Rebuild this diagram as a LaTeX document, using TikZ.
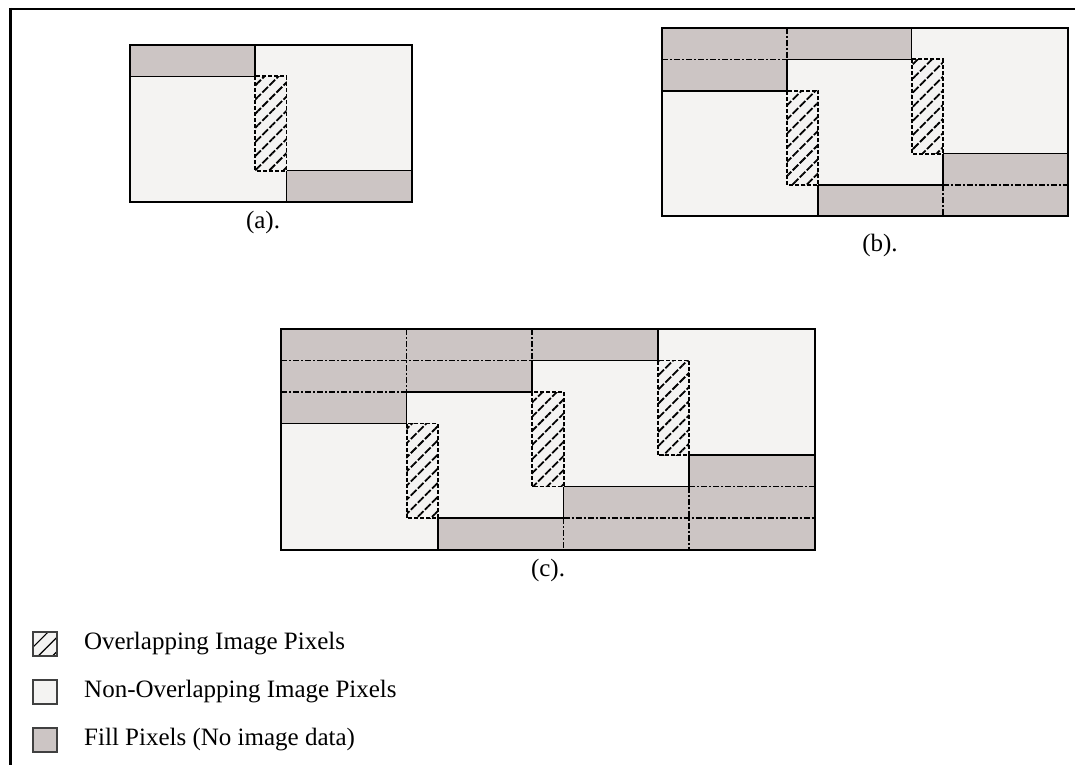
\documentclass[tikz,border=0pt]{standalone}
\usepackage{fontspec}
\setmainfont{Liberation Serif}
\usetikzlibrary{positioning,patterns.meta}
\definecolor{fillgrey}{HTML}{CCC5C4}
\definecolor{imggrey}{HTML}{F4F3F2}
\tikzset{
    imgpx/.style={fill=imggrey},
    fillpx/.style={fill=fillgrey, draw=black, line width=0.8pt},
    overlap/.style={preaction={fill=imggrey},
        pattern={Lines[angle=45, distance=5pt, line width=0.9pt]},
        draw=black, line width=0.9pt, dash pattern=on 2pt off 1pt},
    cut/.style={line width=0.8pt, dash pattern=on 3pt off 1pt on 1pt off 1pt},
    outer/.style={draw=black, line width=1pt},
    keybox/.style={draw=black!75, line width=0.8pt, minimum size=12pt, inner sep=0pt},
    keytext/.style={inner sep=0pt, font=\fontsize{12.5}{15}\selectfont},
    caption/.style={font=\fontsize{12.5}{15}\selectfont}
}
\begin{document}
\begin{tikzpicture}[x=0.5pt, y=-0.5pt]
    \useasboundingbox (0,0) rectangle (1075,765);
    % frame
    \draw[line width=1pt] (1075,9) -- (9,9);
    \draw[line width=1.5pt] (10.5,8) -- (10.5,765);

    % (a) one overlap
    \begin{scope}[shift={(130,45)}, x=15.65pt, y=-15.7pt]
    \fill[imgpx] (0,0) rectangle (9,5);
    \draw[fillpx] (0,0) rectangle (4,1);
    \draw[fillpx] (5,4) rectangle (9,5);
    \draw[overlap] (4,1) rectangle (5,4);
    \draw[outer] (0,0) rectangle (9,5);
    \end{scope}
    \node at (263,222) [caption] (capa) {(a).};

    % (b) two overlaps
    \begin{scope}[shift={(662,28)}, x=15.6pt, y=-15.7pt]
    \fill[imgpx] (0,0) rectangle (13,6);
    \draw[fillpx] (0,0) -- (8,0) -- (8,1) -- (4,1) -- (4,2) -- (0,2) -- cycle;
    \draw[fillpx] (9,4) -- (13,4) -- (13,6) -- (5,6) -- (5,5) -- (9,5) -- cycle;
    \draw[cut] (0,1) -- (4,1) (4,0) -- (4,1);
    \draw[cut] (9,5) -- (13,5) (9,5) -- (9,6);
    \draw[overlap] (4,2) rectangle (5,5);
    \draw[overlap] (8,1) rectangle (9,4);
    \draw[outer] (0,0) rectangle (13,6);
    \end{scope}
    \node at (880,245) [caption] (capb) {(b).};

    % (c) three overlaps
    \begin{scope}[shift={(281,329)}, x=15.7pt, y=-15.75pt]
    \fill[imgpx] (0,0) rectangle (17,7);
    \draw[fillpx] (0,0) -- (12,0) -- (12,1) -- (8,1) -- (8,2) -- (4,2) -- (4,3)
      -- (0,3) -- cycle;
    \draw[fillpx] (13,4) -- (17,4) -- (17,7) -- (5,7) -- (5,6) -- (9,6) -- (9,5)
      -- (13,5) -- cycle;
    \draw[cut] (0,1) -- (8,1) (0,2) -- (4,2) (4,0) -- (4,2) (8,0) -- (8,1);
    \draw[cut] (9,6) -- (17,6) (13,5) -- (17,5) (13,5) -- (13,7) (9,6) -- (9,7);
    \draw[overlap] (4,3) rectangle (5,6);
    \draw[overlap] (8,2) rectangle (9,5);
    \draw[overlap] (12,1) rectangle (13,4);
    \draw[outer] (0,0) rectangle (17,7);
    \end{scope}
    \node at (548,570) [caption] (capc) {(c).};

    % legend
    \node at (45,644) [keybox, preaction={fill=imggrey},
        pattern={Lines[angle=45, distance=5pt, line width=0.6pt]}] (keyover) {};
    \node at (45,692) [keybox, fill=imggrey] (keyimg) {};
    \node at (45,740) [keybox, fill=fillgrey] (keyfill) {};
    \node [keytext, right=13pt of keyover] (txtover) {Overlapping Image Pixels};
    \node [keytext, right=13pt of keyimg] (txtimg) {Non-Overlapping Image Pixels};
    \node [keytext, right=13pt of keyfill] (txtfill) {Fill Pixels (No image data)};
\end{tikzpicture}
\end{document}
